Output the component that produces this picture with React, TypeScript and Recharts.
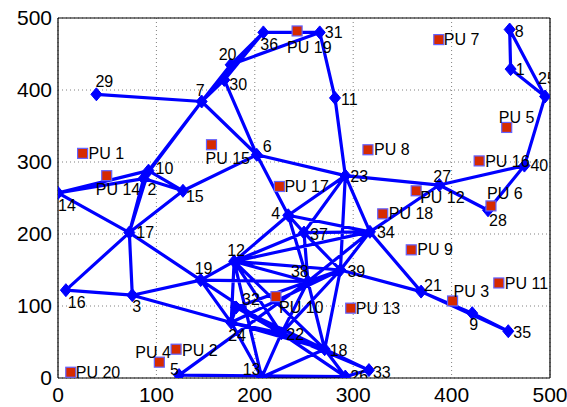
import React from 'react';
import { ComposedChart, Line, Scatter, XAxis, YAxis, CartesianGrid, ReferenceLine } from 'recharts';

// Secondary-user nodes (id, x, y)
const nodeIds = [1, 2, 3, 4, 5, 6, 7, 8, 9, 10, 11, 12, 13, 14, 15, 16, 17, 18, 19, 20, 21, 22, 23, 24, 25, 26, 27, 28, 29, 30, 31, 32, 33, 34, 35, 36, 37, 38, 39, 40];
const nodeX = [460, 87, 75.5, 234, 123, 202, 146, 459, 421, 92, 281.5, 179, 207, 0, 127, 8, 72.5, 271, 145, 175.5, 369, 227, 292, 176, 495, 292, 387.5, 437, 39, 169, 266, 181, 316, 317, 457.6, 208.7, 250, 254, 287, 474];
const nodeY = [429, 277, 115, 226, 4, 310, 384, 484, 90, 288, 389, 162, 1, 257, 260, 122, 202, 40, 136, 435, 120, 62, 281, 77, 391, 2, 268, 233, 394, 414, 480, 98, 11, 203, 65, 480, 202, 134, 150, 295];

// Links between nodes
const edgeFrom = [29, 7, 7, 7, 20, 30, 20, 36, 31, 11, 30, 7, 7, 7, 10, 2, 10, 2, 10, 2, 14, 17, 17, 17, 17, 16, 3, 3, 15, 6, 6, 19, 19, 19, 19, 12, 12, 12, 12, 12, 12, 12, 12, 12, 24, 24, 24, 24, 24, 32, 32, 32, 5, 5, 13, 13, 13, 22, 22, 22, 22, 22, 18, 18, 18, 18, 38, 38, 38, 38, 37, 37, 37, 37, 4, 4, 39, 39, 34, 34, 34, 23, 27, 27, 40, 40, 25, 25, 1, 21, 9, 21, 26, 23];
const edgeTo = [7, 20, 30, 36, 36, 36, 31, 31, 11, 23, 6, 6, 10, 2, 14, 14, 15, 15, 17, 17, 17, 15, 16, 3, 19, 3, 19, 24, 6, 23, 4, 12, 24, 38, 22, 24, 13, 22, 18, 4, 37, 38, 39, 34, 22, 18, 13, 32, 39, 38, 22, 18, 38, 26, 26, 18, 22, 18, 26, 33, 38, 39, 26, 33, 39, 38, 39, 37, 34, 4, 34, 23, 39, 4, 23, 34, 34, 21, 23, 21, 27, 27, 28, 40, 28, 25, 1, 8, 8, 9, 35, 35, 33, 39];

// Primary users (id, x, y)
const puIds = [1, 2, 3, 4, 5, 6, 7, 8, 9, 10, 11, 12, 13, 14, 15, 16, 17, 18, 19, 20];
const puX = [25, 120, 401, 103, 456, 440, 387, 315, 359, 221.5, 448, 364, 297.5, 49.5, 156, 428, 225, 330, 243, 13];
const puY = [312, 40, 107, 22, 348, 239, 470, 317, 178, 113, 132, 260, 97, 281, 324, 301.5, 266, 228, 482, 8];

const axisTicks = [0, 100, 200, 300, 400, 500];

// Label placement relative to each marker, in px (left edge, vertical middle)
const nodeLabelShift: Record<number, [number, number]> = {
  1: [5, 0], 2: [4, 11], 3: [0, 11], 4: [-17, -2], 5: [-9, -6], 6: [6, -8], 7: [-6, -11], 8: [5, 2],
  9: [-3, 11], 10: [7, -2], 11: [6, 1], 12: [-7, -11], 13: [-19, -8], 14: [0, 12], 15: [3, 6], 16: [2, 12],
  17: [7, 0], 18: [5, 1], 19: [-6, -12], 20: [-12, -10], 21: [3, -6], 22: [5, 1], 23: [5, 1], 24: [-3, 13],
  25: [-7, -18], 26: [5, 0], 27: [-6, -9], 28: [1, 10], 29: [-1, -13], 30: [5, 4], 31: [5, 0], 32: [6, -8],
  33: [4, 2], 34: [7, 1], 35: [5, 1], 36: [-3, 12], 37: [6, 2], 38: [-17, -10], 39: [7, 1], 40: [6, 0],
};
const puLabelShift: Record<number, [number, number]> = {
  1: [6, 0], 2: [6, 1], 3: [1, -10], 4: [-24, -10], 5: [-8, -10], 6: [-4, -13], 7: [5, 0], 8: [6, 0],
  9: [6, 0], 10: [3, 11], 11: [6, 0], 12: [4, 7], 13: [5, 0], 14: [-11, 14], 15: [-6, 14], 16: [6, 0],
  17: [5, 0], 18: [6, 0], 19: [-10, 16], 20: [5, 0],
};

const FONT = '"Liberation Sans", Arial, Helvetica, sans-serif';
const BLUE = '#0000ff';

const nodes = nodeIds.map((id, i) => ({ id, x: nodeX[i], y: nodeY[i] }));
const pus = puIds.map((id, i) => ({ id, x: puX[i], y: puY[i] }));

// Each link becomes two points followed by a gap so a single Line draws all segments
const linkPoints: { x: number; y: number | null }[] = [];
edgeFrom.forEach((a, i) => {
  const b = edgeTo[i];
  const ia = nodeIds.indexOf(a);
  const ib = nodeIds.indexOf(b);
  linkPoints.push({ x: nodeX[ia], y: nodeY[ia] });
  linkPoints.push({ x: nodeX[ib], y: nodeY[ib] });
  linkPoints.push({ x: nodeX[ib], y: null });
});

const NodeShape = (props: any) => {
  const { cx, cy, payload } = props;
  const [dx, dy] = nodeLabelShift[payload.id] || [6, 0];
  return (
    <g>
      <polygon
        points={`${cx},${cy - 6.5} ${cx + 5.5},${cy} ${cx},${cy + 6.5} ${cx - 5.5},${cy}`}
        fill={BLUE}
        stroke={BLUE}
        strokeWidth={1}
      />
      <text x={cx + dx} y={cy + dy} dy="0.35em" fontSize={16} fontFamily={FONT} fill="#000">
        {payload.id}
      </text>
    </g>
  );
};

const PuShape = (props: any) => {
  const { cx, cy, payload } = props;
  const [dx, dy] = puLabelShift[payload.id] || [6, 0];
  return (
    <g>
      <rect x={cx - 5} y={cy - 5} width={10} height={10} fill="#d62a00" stroke="#6262ff" strokeWidth={1.2} />
      <text x={cx + dx} y={cy + dy} dy="0.35em" fontSize={16} fontFamily={FONT} fill="#000">
        {`PU ${payload.id}`}
      </text>
    </g>
  );
};

export default function App() {
  return (
    <div style={{ position: 'absolute', left: 0, top: 0, width: 567, height: 407, background: '#fff' }}>
      <ComposedChart width={567} height={407} margin={{ top: 18, right: 17, bottom: 0, left: 0 }}>
        <CartesianGrid stroke="#808080" strokeDasharray="1 3" />
        <XAxis
          type="number"
          dataKey="x"
          domain={[0, 500]}
          ticks={axisTicks}
          height={29}
          tickLine={false}
          tickSize={0}
          tickMargin={9}
          axisLine={{ stroke: '#000', strokeWidth: 1.2 }}
          tick={{ fill: '#000', fontSize: 21, fontFamily: FONT }}
          allowDataOverflow
        />
        <YAxis
          type="number"
          dataKey="y"
          domain={[0, 500]}
          ticks={axisTicks}
          width={58}
          tickLine={false}
          tickSize={0}
          tickMargin={6}
          axisLine={{ stroke: '#000', strokeWidth: 1.2 }}
          tick={{ fill: '#000', fontSize: 21, fontFamily: FONT }}
          allowDataOverflow
        />
        <ReferenceLine y={500} stroke="#000" strokeWidth={1.2} />
        <ReferenceLine x={500} stroke="#000" strokeWidth={1.2} />
        <Line
          data={linkPoints}
          dataKey="y"
          stroke={BLUE}
          strokeWidth={3.2}
          dot={false}
          activeDot={false}
          connectNulls={false}
          isAnimationActive={false}
          strokeLinejoin="round"
        />
        <Scatter data={nodes} dataKey="y" shape={NodeShape} isAnimationActive={false} />
        <Scatter data={pus} dataKey="y" shape={PuShape} isAnimationActive={false} />
      </ComposedChart>
    </div>
  );
}
